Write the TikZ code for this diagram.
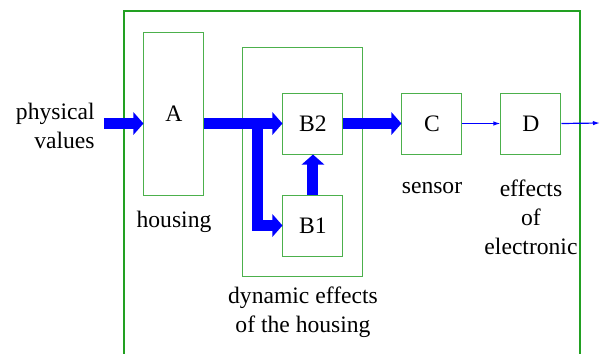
\documentclass[tikz,border=0pt]{standalone}
\usepackage{fontspec}
\setmainfont{Liberation Serif}
\newfontfamily\labelfont{Liberation Serif}
\usepackage{xcolor}
\usetikzlibrary{arrows.meta,positioning}
\definecolor{frame}{HTML}{22A022}
\definecolor{boxline}{HTML}{4CB04C}
\definecolor{flow}{HTML}{0000FF}

\begin{document}
\begin{tikzpicture}[
  x=0.5pt, y=-0.5pt,
  font=\labelfont\fontsize{11.8}{14.5}\selectfont,
  block/.style={draw=boxline, line width=0.5pt, minimum width=30pt, minimum height=30.5pt, inner sep=0pt},
  lbl/.style={align=center, inner sep=0pt},
  fat/.style={-{Triangle[length=5pt,width=11pt]}, draw=flow, line width=5.5pt},
  signal/.style={-{Latex[length=3.5pt,width=2.2pt]}, draw=flow, line width=0.6pt}
]
\useasboundingbox (0,0) rectangle (602,354);
\draw[frame, line width=1pt] (124,358) |- (580,11) -- (580,358);
\node[block, minimum height=81.5pt] (A) at (174,113.5) {A};
\node[block, minimum width=60pt, minimum height=114.5pt] (B) at (303,161.5) {};
\node[block] (B2) at (313,123.5) {B2};
\node[block] (B1) at (313,225.5) {B1};
\node[block] (C) at (432,123.5) {C};
\node[block] (D) at (531,123.5) {D};
\node[lbl, align=right, anchor=east] (pv) at (95,126) {physical\\values};
\node[lbl] (housing) at (174,222) {housing};
\node[lbl] (dyn) at (303,312.5) {dynamic effects\\of the housing};
\node[lbl] (sensor) at (432,188) {sensor};
\node[lbl] (elec) at (531,217) {effects\\of\\electronic};
\coordinate (split) at (258,123.5);
\coordinate (out) at (600,123);
\draw[fat, shorten <=4.5pt] (pv.east |- B2) -- (A.west |- B2);
\draw[fat] (A.east |- B2) -- (B2.west);
\draw[fat] (split) |- (B1.west);
\draw[fat] (B1.north) -- (B2.south);
\draw[fat] (B2.east) -- (C.west);
\draw[signal] (C.east) -- (D.west);
\draw[signal] (D.east) -- (out);
\end{tikzpicture}
\end{document}
